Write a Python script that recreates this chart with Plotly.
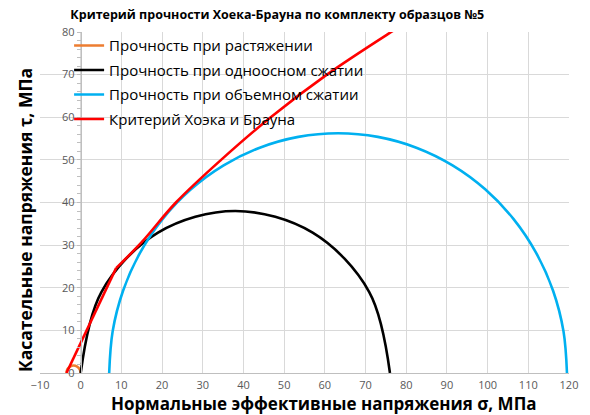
import plotly.graph_objects as go

# Mohr circles (normal stress sigma, shear stress tau), MPa
tension_sigma = [-3.5, -3.27, -2.63, -1.75, -0.87, -0.23, 0.0]
tension_tau = [0.0, 0.88, 1.52, 1.75, 1.52, 0.88, 0.0]

uniaxial_sigma = [0.0, 5.09, 19.0, 38.0, 57.0, 70.91, 76.0]
uniaxial_tau = [0.0, 19.0, 32.91, 38.0, 32.91, 19.0, 0.0]

triaxial_sigma = [7.0, 7.85, 10.39, 14.54, 20.16, 27.09, 35.13, 44.01, 53.48, 63.25,
                  73.02, 82.49, 91.38, 99.41, 106.34, 111.96, 116.11, 118.65, 119.5]
triaxial_tau = [0.0, 9.77, 19.24, 28.13, 36.16, 43.09, 48.71, 52.86, 55.40, 56.25,
                55.40, 52.86, 48.71, 43.09, 36.16, 28.13, 19.24, 9.77, 0.0]

# Hoek-Brown envelope: tensile cut-off segment and curved part
hb_line_sigma = [-3.5, 8.7]
hb_line_tau = [0.0, 24.6]
hb_curve_sigma = [8.7, 15.0, 23.4, 34.5, 46.7, 60.5, 76.3, 84.0]
hb_curve_tau = [24.6, 30.7, 40.0, 50.0, 60.0, 70.0, 80.0, 84.6]

names = ["Прочность при растяжении", "Прочность при одноосном сжатии",
         "Прочность при объемном сжатии", "Критерий Хоэка и Брауна"]
colors = ["#ED7D31", "#000000", "#00B0F0", "#FF0000"]

FONT = "Open Sans"
LW = 2.6

fig = go.Figure()
fig.add_trace(go.Scatter(x=tension_sigma, y=tension_tau, mode="lines", name=names[0],
                         line=dict(color=colors[0], width=LW, shape="spline"),
                         legendgroup="g1"))
fig.add_trace(go.Scatter(x=uniaxial_sigma, y=uniaxial_tau, mode="lines", name=names[1],
                         line=dict(color=colors[1], width=LW, shape="spline"),
                         legendgroup="g2"))
fig.add_trace(go.Scatter(x=triaxial_sigma, y=triaxial_tau, mode="lines", name=names[2],
                         line=dict(color=colors[2], width=LW, shape="spline"),
                         legendgroup="g3"))
fig.add_trace(go.Scatter(x=hb_line_sigma, y=hb_line_tau, mode="lines", name=names[3],
                         line=dict(color=colors[3], width=LW), legendgroup="g4",
                         showlegend=False))
fig.add_trace(go.Scatter(x=hb_curve_sigma, y=hb_curve_tau, mode="lines", name=names[3],
                         line=dict(color=colors[3], width=LW, shape="spline"),
                         legendgroup="g4"))

grid = "#D9D9D9"
axis_line = "#BFBFBF"
tick_font = dict(family=FONT, size=11, color="#595959")

fig.update_xaxes(range=[-10, 120], dtick=10, tick0=0, showgrid=True, gridcolor=grid,
                 gridwidth=1, showline=True, linecolor=axis_line, linewidth=1,
                 zeroline=False, ticks="", tickfont=tick_font, ticklabelstandoff=2,
                 fixedrange=True)
fig.update_yaxes(range=[0, 80], dtick=10, tick0=0, showgrid=True, gridcolor=grid,
                 gridwidth=1, anchor="free", position=10 / 130, showline=True,
                 linecolor=axis_line, linewidth=1, zeroline=False, ticks="outside",
                 ticklen=4, tickcolor=axis_line, tickfont=tick_font,
                 minor=dict(dtick=2, ticks="outside", ticklen=4, tickcolor=axis_line,
                            showgrid=False),
                 fixedrange=True)

fig.update_layout(
    width=590, height=415,
    margin=dict(l=40, r=14, t=32, b=42),
    paper_bgcolor="white", plot_bgcolor="white",
    title=dict(text="<b>Критерий прочности Хоека-Брауна по комплекту образцов №5</b>",
               x=0.47, xanchor="center", y=0.965, yanchor="middle", yref="container",
               font=dict(family=FONT, size=12.5, color="#000000")),
    legend=dict(x=0.055, y=1.008, xanchor="left", yanchor="top",
                bgcolor="rgba(0,0,0,0)", font=dict(family=FONT, size=15, color="#000000"),
                tracegroupgap=2, itemwidth=30),
    showlegend=True,
    annotations=[
        dict(text="<b>Нормальные эффективные напряжения σ, МПа</b>", xref="paper",
             yref="paper", x=0.537, y=-0.088, xanchor="center", yanchor="middle",
             showarrow=False, font=dict(family=FONT, size=17, color="#000000")),
        dict(text="<b>Касательные напряжения τ, МПа</b>", xref="paper", yref="paper",
             x=-0.028, y=0.449, xanchor="center", yanchor="middle", textangle=-90,
             showarrow=False, font=dict(family=FONT, size=17.5, color="#000000")),
    ],
)

fig.write_html("out.html")
